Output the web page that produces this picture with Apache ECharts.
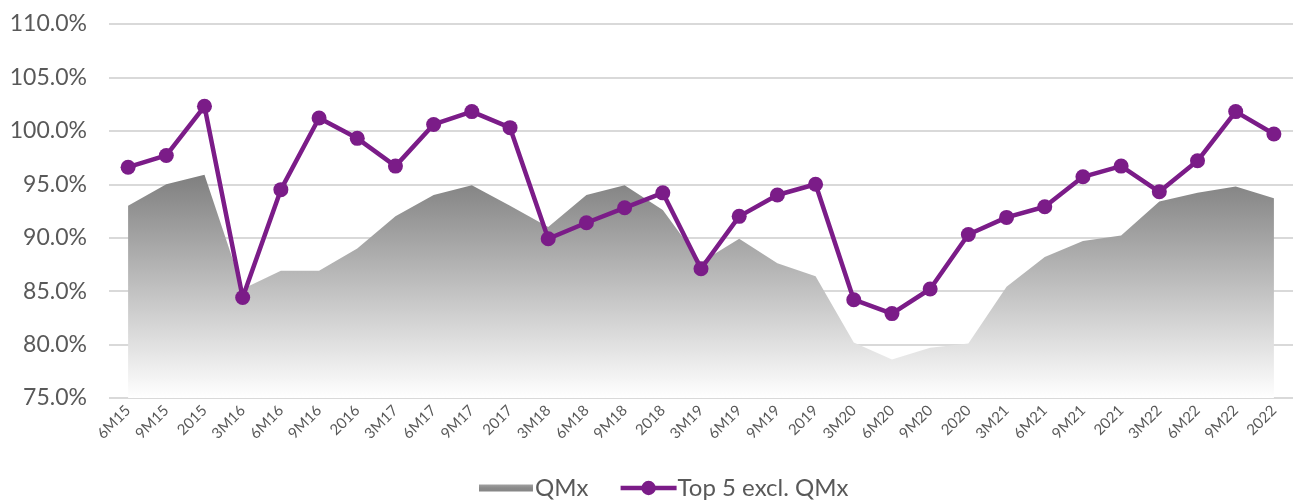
<!DOCTYPE html>
<html>
<head>
<meta charset="utf-8">
<script src="https://cdn.jsdelivr.net/npm/echarts@6/dist/echarts.min.js"></script>
<style>
  html, body { margin: 0; padding: 0; background: #fff; }
  #chart { width: 1293px; height: 502px; }
</style>
</head>
<body>
<div id="chart"></div>
<script>
// periods on the x axis
var categories = ['6M15','9M15','2015','3M16','6M16','9M16','2016','3M17','6M17','9M17','2017','3M18','6M18','9M18','2018',
  '3M19','6M19','9M19','2019','3M20','6M20','9M20','2020','3M21','6M21','9M21','2021','3M22','6M22','9M22','2022'];

// values in percent
var qmx = [93.0, 95.0, 95.9, 85.2, 86.9, 86.9, 89.0, 92.0, 94.0, 94.9, 93.0, 91.0, 94.0, 94.9, 92.6,
  87.7, 89.9, 87.6, 86.4, 80.2, 78.6, 79.7, 80.1, 85.4, 88.2, 89.7, 90.2, 93.4, 94.2, 94.8, 93.7];
var top5 = [96.6, 97.7, 102.3, 84.4, 94.5, 101.2, 99.3, 96.7, 100.6, 101.8, 100.3, 89.9, 91.4, 92.8, 94.2,
  87.1, 92.0, 94.0, 95.0, 84.2, 82.9, 85.2, 90.3, 91.9, 92.9, 95.7, 96.7, 94.3, 97.2, 101.8, 99.7];

var seriesNames = ['QMx', 'Top 5 excl. QMx'];

var font = 'Lato, "Open Sans", sans-serif';
var textColor = '#595959';
var purple = '#7b1c88';

var chart = echarts.init(document.getElementById('chart'));

var option = {
  animation: false,
  textStyle: { fontFamily: font },
  grid: { left: 109, right: -10, top: 24, bottom: 104 },
  xAxis: {
    type: 'category',
    data: categories,
    boundaryGap: true,
    axisLine: { show: false },
    axisTick: { show: false },
    axisLabel: { rotate: 45, interval: 0, color: textColor, fontSize: 15, fontFamily: font, margin: 10 }
  },
  yAxis: {
    type: 'value',
    min: 75,
    max: 110,
    interval: 5,
    axisLine: { show: false },
    axisTick: { show: false },
    axisLabel: {
      color: textColor, fontSize: 23, fontFamily: font, margin: 22,
      formatter: function (v) { return v.toFixed(1) + '%'; }
    },
    splitLine: { lineStyle: { color: '#d9d9d9', width: 2 } }
  },
  legend: {
    top: 471,
    left: 474,
    itemWidth: 56,
    itemHeight: 18,
    itemGap: 30,
    lineStyle: { width: 4.5 },
    textStyle: { color: textColor, fontSize: 24, fontFamily: font, padding: [0, 0, 0, -4] },
    data: [
      {
        name: seriesNames[0],
        icon: 'path://M0,0L54,0L54,0.01L0,0.01Z M0,5.5L54,5.5L54,12.5L0,12.5Z M0,18L54,18L54,18.01L0,18.01Z',
        itemStyle: {
          color: new echarts.graphic.LinearGradient(0, 0, 0, 1, [
            { offset: 0, color: '#c4c4c4' },
            { offset: 0.5, color: '#8a8a8a' },
            { offset: 1, color: '#7f7f7f' }
          ])
        }
      },
      { name: seriesNames[1] }
    ]
  },
  series: [
    {
      name: seriesNames[0],
      type: 'line',
      data: qmx,
      symbol: 'none',
      lineStyle: { width: 0 },
      areaStyle: {
        origin: 'start',
        opacity: 1,
        color: new echarts.graphic.LinearGradient(0, 0, 0, 1, [
          { offset: 0, color: '#7f7f7f' },
          { offset: 1, color: '#ffffff' }
        ])
      },
      z: 1
    },
    {
      name: seriesNames[1],
      type: 'line',
      data: top5,
      symbol: 'circle',
      symbolSize: 15,
      lineStyle: { color: purple, width: 4.5 },
      itemStyle: { color: purple },
      z: 2
    }
  ]
};

chart.setOption(option);
</script>
</body>
</html>
